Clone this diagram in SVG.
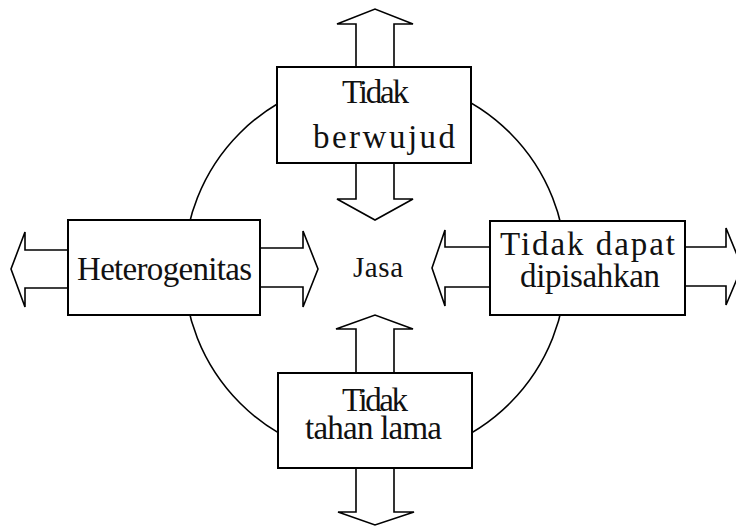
<svg xmlns="http://www.w3.org/2000/svg" width="736" height="526" viewBox="0 0 736 526">
<style>
.bg{fill:#ffffff}
.ring{fill:none;stroke:#000;stroke-width:1.6}
.arr{fill:#fff;stroke:#000;stroke-width:1.6;stroke-linejoin:miter}
.box{fill:#fff;stroke:#000;stroke-width:2}
.t{font-family:"Liberation Serif","Times New Roman",serif;font-size:33px;fill:#111;text-anchor:middle}
.c{font-size:29px}
</style>
<rect class="bg" x="0" y="0" width="736" height="526"/>
<g id="connectors">
<circle class="ring" cx="375" cy="268" r="191"/>
<polygon class="arr" points="356,67 356,24 337,24 375,9 413,24 394,24 394,67"/>
<polygon class="arr" points="356,163 356,199 337,199 375,220 413,199 394,199 394,163"/>
<polygon class="arr" points="356,373 356,329 336,329 375,315 413,329 394,329 394,373"/>
<polygon class="arr" points="356,468 356,512 338,512 375,525 414,512 394,512 394,468"/>
<polygon class="arr" points="68,250 25,250 25,232 11,269 25,307 25,288 68,288"/>
<polygon class="arr" points="260,248 303,248 303,231 318,269 303,307 303,287 260,287"/>
<polygon class="arr" points="490,247 445,247 445,230 432,268 445,306 445,287 490,287"/>
<polygon class="arr" points="685,247 726,247 726,228 742,267 726,305 726,286 685,286"/>
</g>
<g id="node-jasa">
<text class="t c" x="378" y="277" textLength="50">Jasa</text>
</g>
<g id="node-tidak-berwujud">
<rect class="box" x="277" y="67" width="194" height="96"/>
<text class="t" x="375.5" y="103" textLength="67">Tidak</text>
<text class="t" x="384" y="148" textLength="142">berwujud</text>
</g>
<g id="node-heterogenitas">
<rect class="box" x="68" y="220" width="192" height="95"/>
<text class="t" x="164.5" y="280" textLength="175">Heterogenitas</text>
</g>
<g id="node-tidak-dapat-dipisahkan">
<rect class="box" x="490" y="221" width="195" height="94"/>
<text class="t" x="587.5" y="255" textLength="175">Tidak dapat</text>
<text class="t" x="590" y="287" textLength="140">dipisahkan</text>
</g>
<g id="node-tidak-tahan-lama">
<rect class="box" x="278" y="373" width="194" height="95"/>
<text class="t" x="375" y="411" textLength="66">Tidak</text>
<text class="t" x="373.5" y="439" textLength="137">tahan lama</text>
</g>
</svg>
